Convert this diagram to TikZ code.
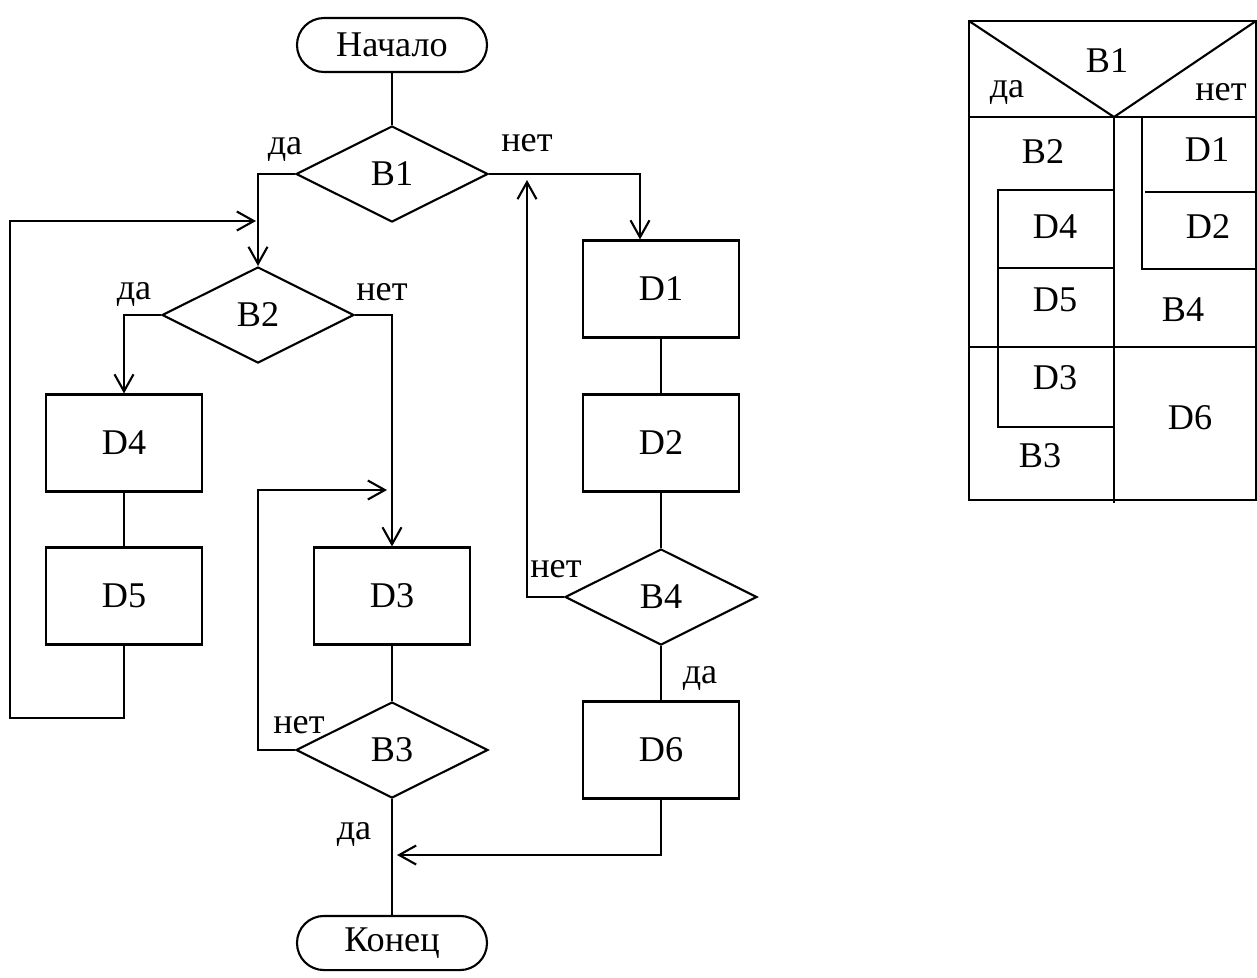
\documentclass[tikz,border=0pt]{standalone}
\usepackage{fontspec}
\setmainfont{Liberation Serif}
\usetikzlibrary{arrows.meta,positioning,shapes.geometric}

\begin{document}
\begin{tikzpicture}[
  x=0.1mm, y=-0.1mm, line width=0.6pt,
  every node/.style={font=\fontsize{10.3}{12}\selectfont},
  term/.style={rectangle, rounded corners=2.7mm, draw, minimum width=19mm,
    minimum height=5.4mm},
  block/.style={rectangle, draw, minimum width=15.6mm, minimum height=9.7mm},
  cond/.style={diamond, draw, minimum width=19.2mm, minimum height=9.6mm,
    inner sep=0pt},
  lbl/.style={inner sep=1pt},
  arrow/.style={-{Straight Barb[length=1.7mm,width=1.9mm]}},
]
  \useasboundingbox (0,0) rectangle (1257,977);

  % flowchart
  \node[term] (start) at (392,45) {Начало};
  \node[cond] (b1) at (392,174) {B1};
  \node[cond] (b2) at (258,315) {B2};
  \node[block] (d4) at (124,443) {D4};
  \node[block] (d5) at (124,596) {D5};
  \node[block] (d3) at (392,596) {D3};
  \node[cond] (b3) at (392,750) {B3};
  \node[term] (stop) at (392,943) {Конец};
  \node[block] (d1) at (661,289) {D1};
  \node[block] (d2) at (661,443) {D2};
  \node[cond] (b4) at (661,597) {B4};
  \node[block] (d6) at (661,750) {D6};

  \node[lbl] (b1yes) at (285,149) {да};
  \node[lbl] (b1no) at (527,143) {нет};
  \node[lbl] (b2yes) at (134,294) {да};
  \node[lbl] (b2no) at (382,292) {нет};
  \node[lbl] (b3no) at (299,725) {нет};
  \node[lbl] (b3yes) at (354,834) {да};
  \node[lbl] (b4no) at (556,569) {нет};
  \node[lbl] (b4yes) at (700,678) {да};

  \coordinate (j1) at (256,221);
  \coordinate (j2) at (387,490);
  \coordinate (j3) at (397,855);
  \coordinate (j4) at (527,180);

  \draw (start) -- (b1);
  \draw[arrow] (b1.west) -| (b2.north);
  \draw[arrow] (b1.east) -| ([xshift=-2.1mm]d1.north);
  \draw[arrow] (b2.west) -| (d4.north);
  \draw[arrow] (b2.east) -| (d3.north);
  \draw (d4) -- (d5);
  \draw[arrow] (d5.south) |- (10,718) |- (j1);
  \draw (d3) -- (b3);
  \draw[arrow] (b3.west) -- ++(-37,0) |- (j2);
  \draw (b3.south) -- (stop.north);
  \draw (d1) -- (d2);
  \draw (d2) -- (b4);
  \draw (b4) -- (d6);
  \draw[arrow] (b4.west) -| (j4);
  \draw[arrow] (d6.south) |- (j3);

  % structogram
  \draw (969,21) rectangle (1256,500);
  \draw (969,21) -- (1114,117) -- (1256,21);
  \draw (969,117) -- (1256,117);
  \draw (1114,117) -- (1114,503);
  \draw (1114,190) -- (998,190) -- (998,427) -- (1114,427);
  \draw (998,268) -- (1114,268);
  \draw (969,347) -- (1256,347);
  \draw (1142,117) -- (1142,269) -- (1256,269);
  \draw (1145,192) -- (1256,192);

  \node (sb1) at (1107,61) {B1};
  \node (syes) at (1007,92) {да};
  \node (sno) at (1221,92) {нет};
  \node (sb2) at (1043,152) {B2};
  \node (sd4) at (1055,227) {D4};
  \node (sd5) at (1055,300) {D5};
  \node (sd3) at (1055,378) {D3};
  \node (sb3) at (1040,456) {B3};
  \node (sd1) at (1207,150) {D1};
  \node (sd2) at (1208,227) {D2};
  \node (sb4) at (1183,310) {B4};
  \node (sd6) at (1190,418) {D6};
\end{tikzpicture}
\end{document}
